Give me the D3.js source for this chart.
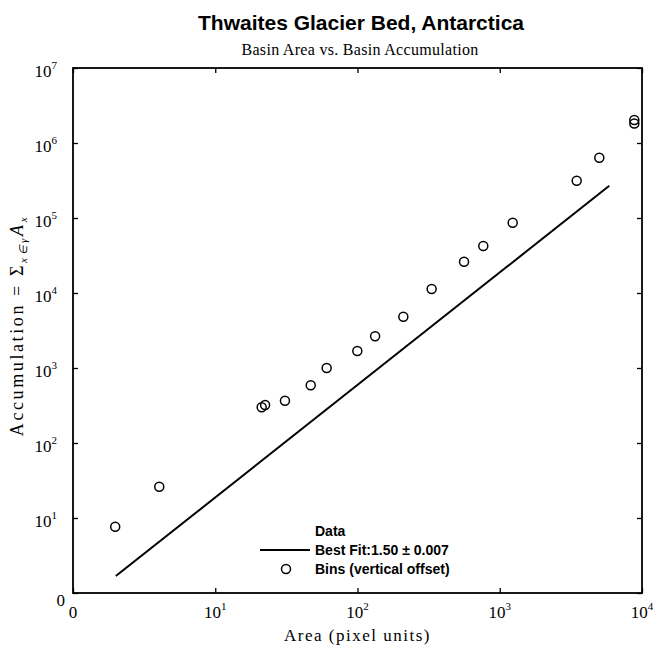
<!DOCTYPE html>
<html>
<head>
<meta charset="utf-8">
<script src="https://cdn.jsdelivr.net/npm/d3@7"></script>
<style>
  body { margin: 0; background: #fff; }
  .serif { font-family: "Liberation Serif", "Times New Roman", serif; }
  .sans { font-family: "Liberation Sans", Arial, Helvetica, sans-serif; }
</style>
</head>
<body>
<div id="chart"></div>
<script>
// basin bins: area (pixel units) and summed accumulation (vertically offset)
var area = [1.98, 4.04, 21.2, 22.4, 30.9, 46.9, 60.7, 99.7, 133, 210, 332, 561, 766, 1233, 3475, 5010, 8830, 8830];
var accumulation = [7.66, 26.1, 299, 321, 366, 588, 1000, 1686, 2648, 4831, 11300, 26150, 42350, 86500, 314000, 637000, 2030000, 1820000];

// power-law fit, log10(acc) = intercept + slope * log10(area)
var fitSlope = 1.50, fitErr = 0.007, fitIntercept = -0.226;
var fitRange = [2.0, 5890];

// decade ticks; the first one is printed as a plain "0"
var xTicks = [1, 10, 100, 1000, 10000];
var xTickExp = [null, 1, 2, 3, 4];
var yTicks = [1, 10, 100, 1000, 10000, 100000, 1000000, 10000000];
var yTickExp = [null, 1, 2, 3, 4, 5, 6, 7];

var margin = {top: 68, right: 16, bottom: 57, left: 73},
    width = 658 - margin.left - margin.right,
    height = 650 - margin.top - margin.bottom;

var root = d3.select("#chart")
  .append("svg")
    .attr("width", 658)
    .attr("height", 650);

var svg = root.append("g")
    .attr("transform", "translate(" + margin.left + "," + margin.top + ")");

var x = d3.scaleLog().domain([1, 10000]).range([0, width]);
var y = d3.scaleLog().domain([1, 10000000]).range([height, 0]);

// titles
root.append("text")
  .attr("class", "sans")
  .attr("x", 361).attr("y", 30)
  .attr("text-anchor", "middle")
  .style("font-size", "21px").style("font-weight", "bold")
  .text("Thwaites Glacier Bed, Antarctica");

root.append("text")
  .attr("class", "serif")
  .attr("x", 360).attr("y", 55)
  .attr("text-anchor", "middle")
  .style("font-size", "16px").style("letter-spacing", "0.3px")
  .text("Basin Area vs. Basin Accumulation");

// inward ticks on all four sides
function tickAxis(axis) {
  return axis.tickSizeInner(-5).tickSizeOuter(0).tickFormat("");
}
svg.append("g").attr("transform", "translate(0," + height + ")")
  .call(tickAxis(d3.axisBottom(x).tickValues(xTicks)));
svg.append("g")
  .call(tickAxis(d3.axisTop(x).tickValues(xTicks)));
svg.append("g")
  .call(tickAxis(d3.axisLeft(y).tickValues(yTicks)));
svg.append("g").attr("transform", "translate(" + width + ",0)")
  .call(tickAxis(d3.axisRight(y).tickValues(yTicks)));

svg.selectAll(".domain").remove();
svg.selectAll(".tick line").attr("stroke", "#000").attr("stroke-width", 1.3);

svg.append("rect")
  .attr("width", width).attr("height", height)
  .attr("fill", "none").attr("stroke", "#000").attr("stroke-width", 1.8);

// tick labels with superscript exponents
function powerLabel(sel, exp) {
  if (exp === null) { sel.text("0"); return; }
  sel.append("tspan").text("10");
  sel.append("tspan").attr("dy", -8).style("font-size", "11px").text(exp);
}

svg.selectAll(".xlab")
  .data(xTicks)
  .enter().append("text")
    .attr("class", "xlab serif")
    .attr("x", function(d) { return x(d); })
    .attr("y", height + 25)
    .attr("text-anchor", "middle")
    .style("font-size", "17px")
    .each(function(d, i) { powerLabel(d3.select(this), xTickExp[i]); });

svg.selectAll(".ylab")
  .data(yTicks)
  .enter().append("text")
    .attr("class", "ylab serif")
    .attr("x", function(d, i) { return i === 0 ? -8 : -16; })
    .attr("y", function(d, i) { return y(d) + (i === 0 ? 13 : 9); })
    .attr("text-anchor", "end")
    .style("font-size", "17px")
    .each(function(d, i) { powerLabel(d3.select(this), yTickExp[i]); });

// axis titles
svg.append("text")
  .attr("class", "serif")
  .attr("x", width / 2).attr("y", height + 48)
  .attr("text-anchor", "middle")
  .style("font-size", "17px").style("letter-spacing", "1.5px")
  .text("Area (pixel units)");

var ylab = svg.append("text")
  .attr("class", "serif")
  .attr("transform", "translate(-50," + (height / 2 - 5) + ") rotate(-90)")
  .attr("text-anchor", "middle")
  .style("font-size", "18px").style("letter-spacing", "2.6px");
ylab.append("tspan").text("Accumulation = \u03A3");
ylab.append("tspan").attr("dy", 4).style("font-size", "11px").style("font-style", "italic").text("x\u2208\u03B3");
ylab.append("tspan").attr("dy", -4).style("font-style", "italic").text("A");
ylab.append("tspan").attr("dy", 4).style("font-size", "11px").style("font-style", "italic").text("x");

// best-fit line
var fitPts = fitRange.map(function(a) {
  return [a, Math.pow(10, fitIntercept + fitSlope * Math.log10(a))];
});
svg.append("path")
  .datum(fitPts)
  .attr("fill", "none")
  .attr("stroke", "#000")
  .attr("stroke-width", 2)
  .attr("d", d3.line()
    .x(function(d) { return x(d[0]); })
    .y(function(d) { return y(d[1]); }));

// binned points
svg.selectAll(".bin")
  .data(area)
  .enter().append("circle")
    .attr("class", "bin")
    .attr("cx", function(d) { return x(d); })
    .attr("cy", function(d, i) { return y(accumulation[i]); })
    .attr("r", 4.5)
    .attr("fill", "none")
    .attr("stroke", "#000")
    .attr("stroke-width", 1.5);

// legend
var legend = root.append("g").attr("class", "sans")
  .style("font-size", "14px").style("font-weight", "bold");
legend.append("text").attr("x", 315).attr("y", 536).text("Data");
legend.append("line")
  .attr("x1", 260).attr("x2", 310).attr("y1", 550).attr("y2", 550)
  .attr("stroke", "#000").attr("stroke-width", 1.8);
legend.append("text").attr("x", 315).attr("y", 555)
  .text("Best Fit:" + fitSlope.toFixed(2) + " \u00B1 " + fitErr.toFixed(3));
legend.append("circle")
  .attr("cx", 286).attr("cy", 569).attr("r", 4.5)
  .attr("fill", "none").attr("stroke", "#000").attr("stroke-width", 1.5);
legend.append("text").attr("x", 315).attr("y", 574).text("Bins (vertical offset)");
</script>
</body>
</html>
